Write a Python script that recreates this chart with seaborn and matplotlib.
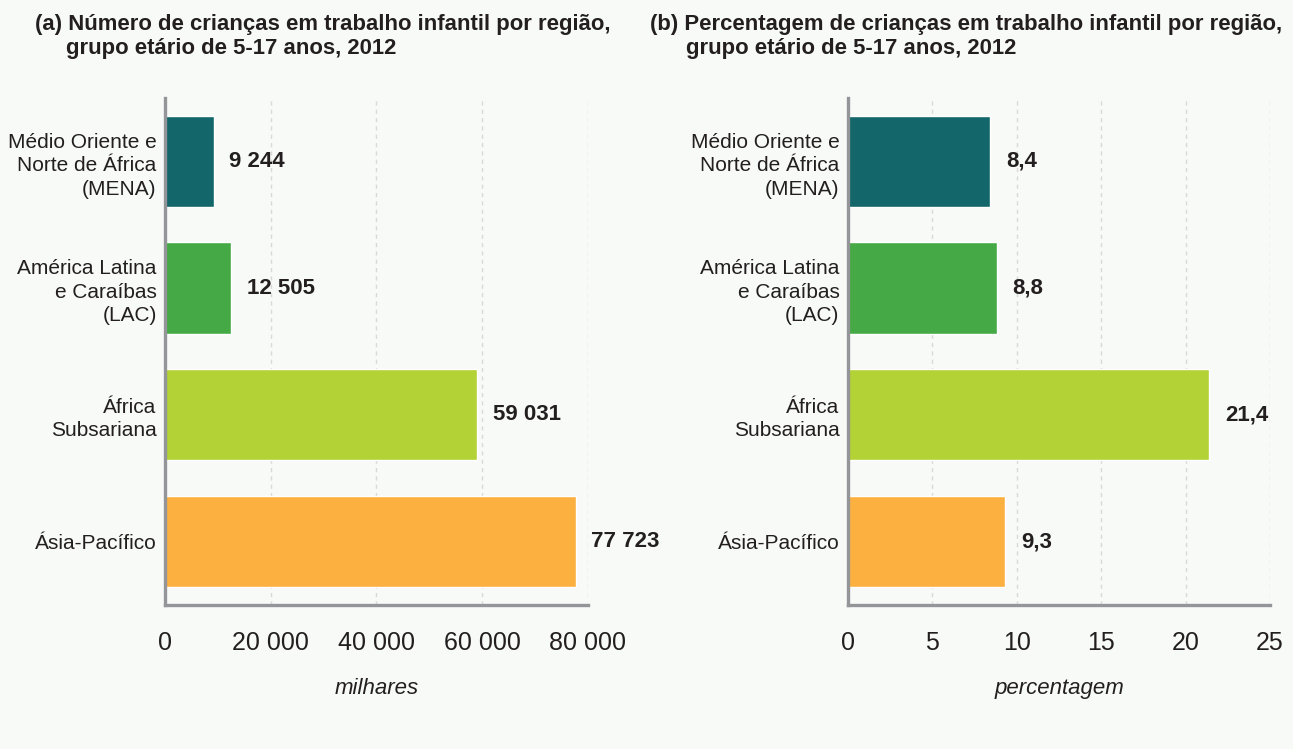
import matplotlib
matplotlib.use("Agg")
import matplotlib.pyplot as plt
import seaborn as sns
import pandas as pd

# data
regions = ["Médio Oriente e\nNorte de África\n(MENA)",
           "América Latina\ne Caraíbas\n(LAC)",
           "África\nSubsariana",
           "Ásia-Pacífico"]
children_thousands = [9244, 12505, 59031, 77723]
children_pct = [8.4, 8.8, 21.4, 9.3]
bar_colors = ["#13676a", "#45aa45", "#b2d235", "#fbb040"]

ticks_a = [0, 20000, 40000, 60000, 80000]
ticks_b = [0, 5, 10, 15, 20, 25]

bg = "#f8faf8"
ink = "#231f20"
sns.set_style("white")
plt.rcParams["font.family"] = ["Liberation Sans", "DejaVu Sans"]
plt.rcParams["text.color"] = ink

fig = plt.figure(figsize=(12.93, 7.49), dpi=100, facecolor=bg)
ax_a = fig.add_axes([0.1276, 0.1923, 0.3271, 0.677])
ax_b = fig.add_axes([0.6558, 0.1923, 0.3264, 0.677])


def fmt_thousands(v):
    return f"{v:,.0f}".replace(",", " ")


def draw(ax, vals, ticks, xlabel, labels, offset):
    df = pd.DataFrame({"region": regions, "value": vals})
    sns.barplot(data=df, x="value", y="region", hue="region", palette=bar_colors,
                orient="h", width=0.72, saturation=1, legend=False, ax=ax)
    ax.set_facecolor(bg)
    ax.set_xlim(ticks[0], ticks[-1])
    ax.set_ylim(3.5, -0.5)
    ax.set_xticks(ticks)
    ax.set_xticklabels(labels, fontsize=18, color=ink)
    ax.tick_params(axis="x", length=0, pad=19)
    ax.tick_params(axis="y", length=0, pad=6, labelsize=15, labelcolor=ink)
    for lbl in ax.get_yticklabels():
        lbl.set_horizontalalignment("right")
        lbl.set_multialignment("right")
        lbl.set_linespacing(1.3)
    ax.set_xlabel(xlabel, fontsize=16, style="italic", labelpad=16, color=ink)
    ax.set_ylabel("")
    for t in ticks[1:]:
        ax.axvline(t, color="#d8dad8", lw=1, ls=(0, (3, 3)), zorder=0)
    for s in ["top", "right"]:
        ax.spines[s].set_visible(False)
    for s in ["left", "bottom"]:
        ax.spines[s].set_color("#939598")
        ax.spines[s].set_linewidth(2.4)
    for i, v in enumerate(vals):
        txt = fmt_thousands(v) if isinstance(v, int) else f"{v:.1f}".replace(".", ",")
        ax.text(v + offset, i, txt, va="center", ha="left", fontsize=16,
                fontweight="bold", color=ink)


draw(ax_a, children_thousands, ticks_a, "milhares",
     [fmt_thousands(t) for t in ticks_a], 2950)
draw(ax_b, children_pct, ticks_b, "percentagem",
     [str(t) for t in ticks_b], 0.95)

W, H = 1293, 749
title_kw = dict(fontsize=15.9, fontweight="bold", va="top", ha="left")
fig.text(35 / W, 1 - 14 / H,
         "(a) Número de crianças em trabalho infantil por região,", **title_kw)
fig.text(66 / W, 1 - 38 / H, "grupo etário de 5-17 anos, 2012", **title_kw)
fig.text(650 / W, 1 - 14 / H,
         "(b) Percentagem de crianças em trabalho infantil por região,", **title_kw)
fig.text(686 / W, 1 - 38 / H, "grupo etário de 5-17 anos, 2012", **title_kw)

fig.savefig("out.png", dpi=100, facecolor=bg)
